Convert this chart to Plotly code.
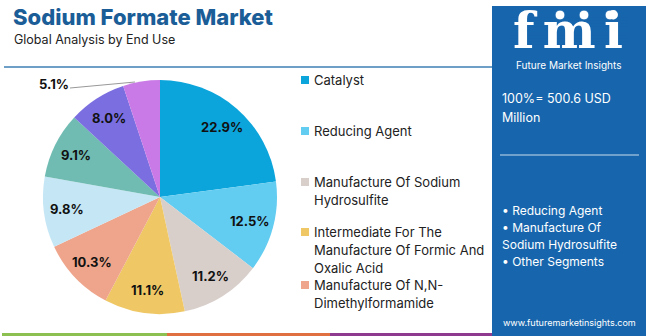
import math
import plotly.graph_objects as go

# End-use segments and their share of the market (%)
segments = [
    "Catalyst",
    "Reducing Agent",
    "Manufacture Of Sodium Hydrosulfite",
    "Intermediate For The Manufacture Of Formic And Oxalic Acid",
    "Manufacture Of N,N-Dimethylformamide",
    "Other A",
    "Other B",
    "Other C",
    "Other D",
]
shares = [22.9, 12.5, 11.2, 11.1, 10.3, 9.8, 9.1, 8.0, 5.1]
colors = ["#0ba5dc", "#63ccf1", "#d8cfcb", "#efc865", "#eea58b",
          "#c5e6f5", "#70bcb3", "#7a6ee0", "#c97ae6"]

# Legend entries shown beside the pie (wrapped lines)
legend_lines = [
    ["Catalyst"],
    ["Reducing Agent"],
    ["Manufacture Of Sodium", "Hydrosulfite"],
    ["Intermediate For The", "Manufacture Of Formic And", "Oxalic Acid"],
    ["Manufacture Of N,N-", "Dimethylformamide"],
]
legend_top = [80, 131, 182, 232, 285]

total_text = ["100%= 500.6 USD", "Million"]
highlights = ["• Reducing Agent", "• Manufacture Of", "Sodium Hydrosulfite", "• Other Segments"]
site = "www.futuremarketinsights.com"

W, H = 650, 336
PANEL = "#1766ad"
TITLE_BLUE = "#1a5d97"
FONT = "Inter"

# Pie geometry in pixels
CX, CY, R = 160, 197, 117

def px(x):
    return x / W

def py(y):
    return 1 - y / H

fig = go.Figure(go.Pie(
    labels=segments,
    values=shares,
    textinfo="none",
    marker=dict(colors=colors, line=dict(width=0)),
    sort=False,
    direction="clockwise",
    rotation=0,
    hole=0,
    showlegend=False,
    domain=dict(x=[px(CX - R), px(CX + R)], y=[py(CY + R), py(CY - R)]),
))

shapes = []
annotations = []

# Percentage labels at each slice's mid-angle (clockwise from 12 o'clock)
total = sum(shares)
cum = 0.0
for i, v in enumerate(shares):
    mid = (cum + v / 2) / total * 2 * math.pi
    cum += v
    if i == len(shares) - 1:
        continue
    lx = CX + 0.8 * R * math.sin(mid)
    ly = CY - 0.8 * R * math.cos(mid)
    annotations.append(dict(x=px(lx), y=py(ly), xref="paper", yref="paper", xanchor="center",
                            yanchor="middle", text=f"{v:.1f}%", showarrow=False,
                            font=dict(family=FONT, size=13, color="#111111", weight="bold")))

# Outside label for the smallest slice with its leader line
small_val = shares[-1]
shapes.append(dict(type="line", xref="paper", yref="paper", x0=px(70), y0=py(88), x1=px(135), y1=py(82),
                   line=dict(color="#999999", width=1)))
annotations.append(dict(x=px(54), y=py(84), xref="paper", yref="paper", xanchor="center", yanchor="middle",
                        text=f"{small_val:.1f}%", showarrow=False,
                        font=dict(family=FONT, size=13, color="#111111", weight="bold")))

# Title block
annotations.append(dict(x=px(11), y=py(17), xref="paper", yref="paper", xanchor="left", yanchor="middle",
                        text="Sodium Formate Market", showarrow=False,
                        font=dict(family=FONT, size=22, color=TITLE_BLUE, weight=800)))
annotations.append(dict(x=px(12), y=py(39), xref="paper", yref="paper", xanchor="left", yanchor="middle",
                        text="Global Analysis by End Use", showarrow=False,
                        font=dict(family=FONT, size=12.5, color="#222222")))

# Rule under the title
shapes.append(dict(type="line", xref="paper", yref="paper", x0=px(4), x1=px(492), y0=py(67), y1=py(67),
                   line=dict(color="#3d7fb5", width=1.5)))

# Colour strip along the bottom
for x0, x1, c in [(2, 167, "#8cc152"), (167, 330, "#e0703f"), (330, 492, "#8e3b8f")]:
    shapes.append(dict(type="rect", xref="paper", yref="paper", x0=px(x0), x1=px(x1), y0=0, y1=py(333),
                       fillcolor=c, line=dict(width=0)))

# Legend
for i, lines in enumerate(legend_lines):
    top = legend_top[i]
    shapes.append(dict(type="rect", xref="paper", yref="paper",
                       x0=px(301), x1=px(309), y0=py(top + 4), y1=py(top - 4),
                       fillcolor=colors[i], line=dict(width=0)))
    for j, line in enumerate(lines):
        annotations.append(dict(x=px(312), y=py(top + j * 18), xref="paper", yref="paper",
                                xanchor="left", yanchor="middle", text=line, showarrow=False,
                                font=dict(family=FONT, size=13, color="#222222")))

# Right-hand info panel
shapes.append(dict(type="rect", xref="paper", yref="paper", x0=px(492), x1=px(646), y0=0, y1=py(6),
                   fillcolor=PANEL, line=dict(width=0), layer="below"))

# fmi logo: striped letters with small globe marks
annotations.append(dict(x=px(568), y=py(30), xref="paper", yref="paper", xanchor="center", yanchor="middle",
                        text="f\u2006m\u2006i", showarrow=False,
                        font=dict(family="DejaVu Serif", size=50, color="white", weight="bold")))
for k in range(11):
    yy = 13 + k * 3.6
    shapes.append(dict(type="line", xref="paper", yref="paper", x0=px(510), x1=px(628), y0=py(yy), y1=py(yy),
                       line=dict(color=PANEL, width=1.2)))
for cx in [560, 584, 610]:
    shapes.append(dict(type="circle", xref="paper", yref="paper", x0=px(cx - 5), x1=px(cx + 5),
                       y0=py(20), y1=py(10), fillcolor="white", line=dict(color=PANEL, width=1)))
annotations.append(dict(x=px(568), y=py(64.5), xref="paper", yref="paper", xanchor="center", yanchor="middle",
                        text="Future Market Insights", showarrow=False,
                        font=dict(family=FONT, size=10, color="white")))

for j, line in enumerate(total_text):
    annotations.append(dict(x=px(500), y=py(98 + j * 19), xref="paper", yref="paper", xanchor="left",
                            yanchor="middle", text=line, showarrow=False,
                            font=dict(family=FONT, size=12.5, color="white")))
shapes.append(dict(type="line", xref="paper", yref="paper", x0=px(500), x1=px(639), y0=py(155), y1=py(155),
                   line=dict(color="#8fb6d8", width=1.5)))
for j, line in enumerate(highlights):
    annotations.append(dict(x=px(500), y=py(210 + j * 17), xref="paper", yref="paper", xanchor="left",
                            yanchor="middle", text=line, showarrow=False,
                            font=dict(family=FONT, size=12, color="white")))
annotations.append(dict(x=px(569), y=py(322), xref="paper", yref="paper", xanchor="center", yanchor="middle",
                        text=site, showarrow=False,
                        font=dict(family=FONT, size=9, color="white")))

fig.update_layout(
    width=W, height=H,
    margin=dict(l=0, r=0, t=0, b=0),
    paper_bgcolor="white",
    plot_bgcolor="white",
    shapes=shapes,
    annotations=annotations,
)

fig.write_html("out.html")
